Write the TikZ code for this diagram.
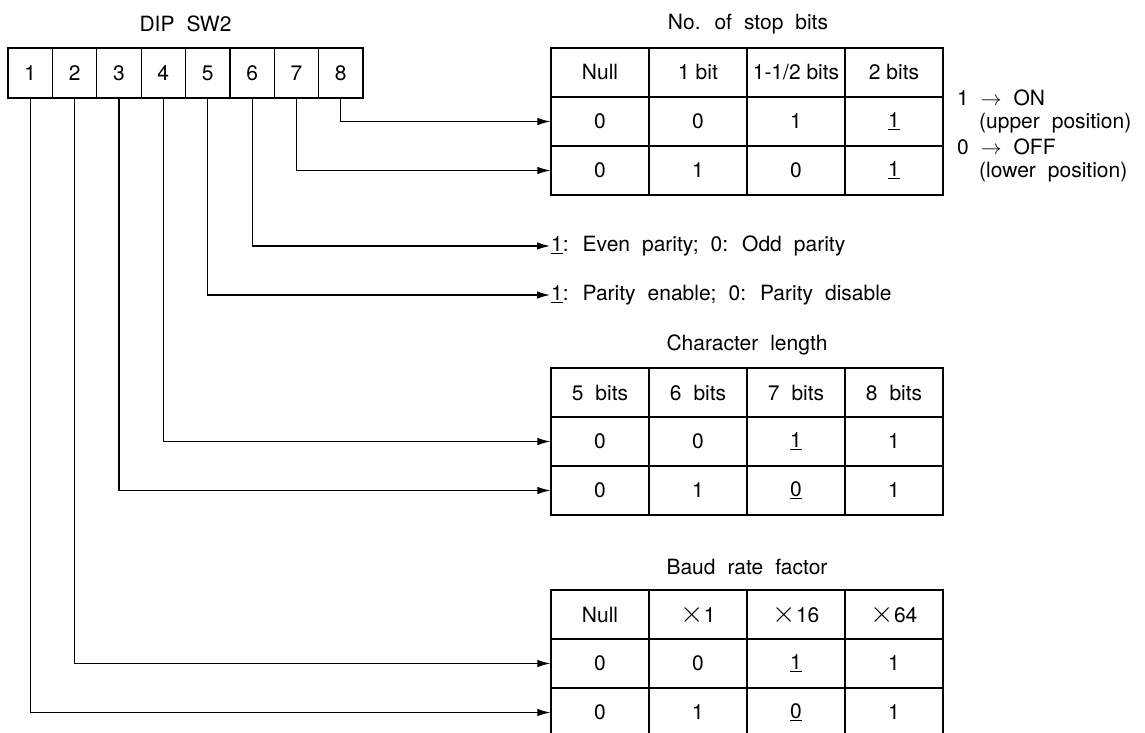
\documentclass[tikz,border=0pt]{standalone}
\usepackage{fontspec}
\setmainfont{TeX Gyre Heros}
\usetikzlibrary{arrows.meta}
\newcommand{\dipfont}{\fontsize{21}{25}\selectfont\spaceskip=12pt plus 2pt minus 2pt\relax}
\newcommand{\tightfont}{\fontsize{21}{25}\selectfont}
\newcommand{\mul}{\scalebox{1.45}{$\times$}}

\begin{document}
\begin{tikzpicture}[
		x=1pt, y=-1pt,
		every node/.style={
				font=\dipfont
			},
		swcell/.style={
				draw,
				line width=1.2pt,
				minimum width=44.375pt,
				minimum height=50pt,
				inner sep=0pt
			},
		cell/.style={
				draw,
				line width=1.3pt,
				minimum width=98pt,
				minimum height=49pt,
				inner sep=0pt
			},
		tight/.style={
				font=\tightfont
			},
		label/.style={
				anchor=west,
				inner xsep=1pt,
				inner ysep=0pt
			},
		arr/.style={
				line width=1.2pt,
				-{Latex[length=13pt,width=7.5pt]}
			},
	]
	\useasboundingbox (0,0) rectangle (1145,733);
	% DIP switch
	\node [swcell] (1) at (30.2, 73) {1};
	\node [swcell] (2) at (74.6, 73) {2};
	\node [swcell] (3) at (119, 73) {3};
	\node [swcell] (4) at (163.3, 73) {4};
	\node [swcell] (5) at (207.7, 73) {5};
	\node [swcell] (6) at (252.1, 73) {6};
	\node [swcell] (7) at (296.5, 73) {7};
	\node [swcell] (8) at (340.8, 73) {8};
	% stop bits
	\node [cell] (11) at (600, 72.5) {Null};
	\node [cell, tight] (12) at (698, 72.5) {1 bit};
	\node [cell, tight] (13) at (796, 72.5) {1-1/2 bits};
	\node [cell, tight] (14) at (894, 72.5) {2 bits};
	\node [cell] (15) at (600, 121.5) {0};
	\node [cell] (16) at (698, 121.5) {0};
	\node [cell] (17) at (796, 121.5) {1};
	\node [cell] (18) at (894, 121.5) {\underline{1}};
	\node [cell] (19) at (600, 170.5) {0};
	\node [cell] (20) at (698, 170.5) {1};
	\node [cell] (21) at (796, 170.5) {0};
	\node [cell] (22) at (894, 170.5) {\underline{1}};
	% character length
	\node [cell] (31) at (600, 392.5) {5 bits};
	\node [cell] (32) at (698, 392.5) {6 bits};
	\node [cell] (33) at (796, 392.5) {7 bits};
	\node [cell] (34) at (894, 392.5) {8 bits};
	\node [cell] (35) at (600, 441.5) {0};
	\node [cell] (36) at (698, 441.5) {0};
	\node [cell] (37) at (796, 441.5) {\underline{1}};
	\node [cell] (38) at (894, 441.5) {1};
	\node [cell] (39) at (600, 490.5) {0};
	\node [cell] (40) at (698, 490.5) {1};
	\node [cell] (41) at (796, 490.5) {\underline{0}};
	\node [cell] (42) at (894, 490.5) {1};
	% baud rate
	\node [cell] (51) at (600, 614.5) {Null};
	\node [cell] (52) at (698, 614.5) {\mul1};
	\node [cell] (53) at (796, 614.5) {\mul16};
	\node [cell] (54) at (894, 614.5) {\mul64};
	\node [cell] (55) at (600, 663.5) {0};
	\node [cell] (56) at (698, 663.5) {0};
	\node [cell] (57) at (796, 663.5) {\underline{1}};
	\node [cell] (58) at (894, 663.5) {1};
	\node [cell] (59) at (600, 712.5) {0};
	\node [cell] (60) at (698, 712.5) {1};
	\node [cell] (61) at (796, 712.5) {\underline{0}};
	\node [cell] (62) at (894, 712.5) {1};
	% texts
	\node (70) at (185.5, 24) {DIP SW2};
	\node (71) at (748, 24) {No. of stop bits};
	\node (72) at (747, 345) {Character length};
	\node (73) at (747, 567) {Baud rate factor};
	\node [label] (74) at (550, 246) {\underline{1}: Even parity; 0: Odd parity};
	\node [label] (75) at (550, 295) {\underline{1}: Parity enable; 0: Parity disable};
	\node [label] (76) at (956, 98) {1 $\rightarrow$ ON};
	\node [label] (77) at (978, 123) {(upper position)};
	\node [label] (78) at (956, 147) {0 $\rightarrow$ OFF};
	\node [label] (79) at (978, 172) {(lower position)};
	% connectors
	\draw [arr] (8.south) |- (15.west);
	\draw [arr] (7.south) |- (19.west);
	\draw [arr] (6.south) |- (74.west);
	\draw [arr] (5.south) |- (75.west);
	\draw [arr] (4.south) |- (35.west);
	\draw [arr] (3.south) |- (39.west);
	\draw [arr] (2.south) |- (55.west);
	\draw [arr] (1.south) |- (59.west);
\end{tikzpicture}
\end{document}
